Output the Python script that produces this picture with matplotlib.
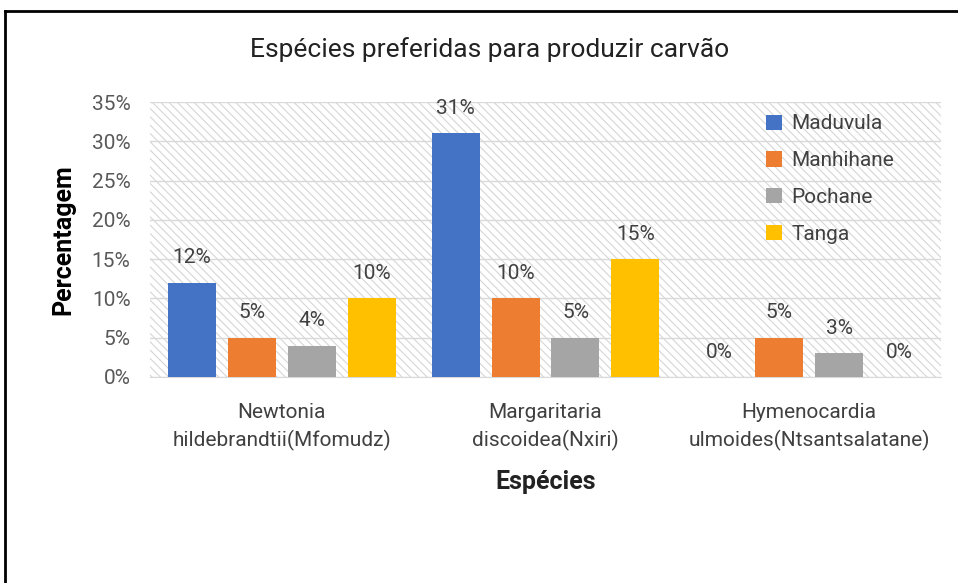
import matplotlib
matplotlib.use("Agg")
import matplotlib.pyplot as plt
import numpy as np
from matplotlib.patches import Rectangle
from matplotlib.lines import Line2D

plt.rcParams['font.family'] = ['Roboto', 'DejaVu Sans']
plt.rcParams['hatch.linewidth'] = 0.8
plt.rcParams['hatch.color'] = '#d6d6d6'

categories = ["Newtonia\nhildebrandtii(Mfomudz)", "Margaritaria\ndiscoidea(Nxiri)",
              "Hymenocardia\nulmoides(Ntsantsalatane)"]
series = ["Maduvula", "Manhihane", "Pochane", "Tanga"]
values = {
    "Maduvula": [12, 31, 0],
    "Manhihane": [5, 10, 5],
    "Pochane": [4, 5, 3],
    "Tanga": [10, 15, 0],
}
colors = ["#4472C4", "#ED7D31", "#A5A5A5", "#FFC000"]
yticks = [0, 5, 10, 15, 20, 25, 30, 35]

fig = plt.figure(figsize=(9.58, 5.83), dpi=100)
ax = fig.add_axes([150/958, 1-377/583, (941-150)/958, (377-102)/583])

# hatched background
bg = Rectangle((0, 0), 1, 1, transform=ax.transAxes, facecolor='white',
               edgecolor='#d6d6d6', hatch='\\\\\\\\', linewidth=0, zorder=0)
ax.add_patch(bg)

x = np.arange(len(categories))
w = 0.182
step = 0.2275
for i, (s, c) in enumerate(zip(series, colors)):
    vals = values[s]
    bars = ax.bar(x + (i - 1.5) * step, vals, width=w, color=c, label=s, zorder=3)
    for b, v in zip(bars, vals):
        ax.annotate(f"{v}%", (b.get_x() + b.get_width()/2, v), xytext=(0, 11),
                    textcoords='offset points', ha='center', va='bottom',
                    fontsize=15, color='#404040', zorder=4)

ax.set_xlim(-0.5, 2.5)
ax.set_ylim(0, 35)
ax.set_yticks(yticks)
ax.set_yticklabels([f"{t}%" for t in yticks], fontsize=15, color='#595959')
ax.set_xticks(x)
ax.set_xticklabels(categories, fontsize=15, color='#404040', linespacing=1.45)
ax.tick_params(axis='both', length=0)
ax.tick_params(axis='x', pad=19)
ax.tick_params(axis='y', pad=14)
ax.yaxis.grid(True, color='#d9d9d9', linewidth=1, zorder=1)
ax.set_axisbelow(True)
for sp in ['top', 'right', 'left']:
    ax.spines[sp].set_visible(False)
ax.spines['bottom'].set_color('#d9d9d9')
ax.spines['bottom'].set_zorder(2)

ax.set_ylabel("Percentagem", fontsize=18, fontweight='bold', color='black', labelpad=12)
ax.set_xlabel("Espécies", fontsize=18, fontweight='bold', color='#222222', labelpad=14)

fig.text(490/958, 1-50/583, "Espécies preferidas para produzir carvão", fontsize=19,
         ha='center', va='center', color='#222222')

leg = ax.legend(loc='upper left', frameon=False, fontsize=15,
                handlelength=0.75, handleheight=0.75, handletextpad=0.45,
                labelspacing=0.85, borderaxespad=0.0)
for t in leg.get_texts():
    t.set_color('#404040')
leg.set_bbox_to_anchor((608/791, 0.985), transform=ax.transAxes)

# outer frame
fig.add_artist(Line2D([5/958, 5/958], [0, 1-11/583], transform=fig.transFigure,
                      color='black', linewidth=2))
fig.add_artist(Line2D([5/958, 1], [1-11/583, 1-11/583], transform=fig.transFigure,
                      color='black', linewidth=2))

fig.savefig("out.png", dpi=100)
